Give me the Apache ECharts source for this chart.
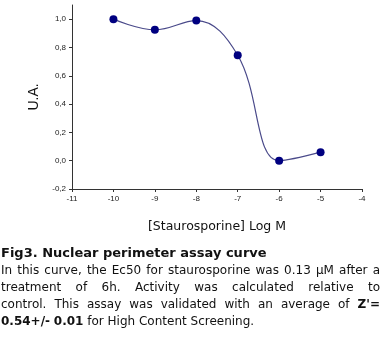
<!DOCTYPE html>
<html><head><meta charset="utf-8">
<script src="https://cdn.jsdelivr.net/npm/echarts@6/dist/echarts.min.js"></script>
<style>html,body{margin:0;padding:0;background:#fff}#c{width:390px;height:338px}</style>
</head><body><div id="c"></div>
<script>
const logConc = [-10, -9, -8, -7, -6, -5];
const ua = [1.0, 0.925, 0.99, 0.745, 0.0, 0.06];
const yTicks = [-0.2, 0, 0.2, 0.4, 0.6, 0.8, 1.0];
const xAxisName = '[Staurosporine] Log M';
const yAxisName = 'U.A.';
const captionTitle = 'Fig3. Nuclear perimeter assay curve';
const captionLines = [
  [{t:'In this curve, the Ec50 for staurosporine was 0.13 \u00b5M after a'}],
  [{t:'treatment of 6h. Activity was calculated relative to'}],
  [{t:'control. This assay was validated with an average of'}, {t:"Z'=", b:true}],
  [{t:'0.54+/- 0.01', b:true}, {t:' for High Content Screening.'}]
];

const chart = echarts.init(document.getElementById('c'), null, {renderer:'canvas'});
const ctx = document.createElement('canvas').getContext('2d');
const bodyFont = '"DejaVu Sans", sans-serif';
function fontStr(b, s){ return (b ? 'bold ' : '') + s + 'px ' + bodyFont; }
function measure(t, b, s){ ctx.font = fontStr(b, s); return ctx.measureText(t).width; }

const graphics = [];
graphics.push({type:'text', left:1, top:247, style:{text:captionTitle, font:'bold 13px "DejaVu Sans", sans-serif', fill:'#111'}});
const x0 = 1, x1 = 380, lineTop = [265, 282, 299, 316];
// choose a font size so that the first line nearly fills the width
let fs = 12;
while (fs > 9 && measure(captionLines[0][0].t, false, fs) > 372) fs -= 0.1;
captionLines.forEach((segs, li) => {
  const words = [];
  segs.forEach(s => s.t.split(' ').forEach(w => { if (w) words.push({w, b: !!s.b}); }));
  const justify = li < captionLines.length - 1;
  const widths = words.map(o => measure(o.w, o.b, fs));
  const total = widths.reduce((a,b)=>a+b,0);
  const gap = justify ? (x1 - x0 - total) / (words.length - 1) : measure(' ', false, fs);
  let x = x0;
  words.forEach((o, i) => {
    graphics.push({type:'text', left:x, top:lineTop[li], style:{text:o.w, font:fontStr(o.b, fs), fill:'#111'}});
    x += widths[i] + gap;
  });
});

const fmt = v => (Math.round(v*10)/10).toFixed(1).replace('.', ',');
chart.setOption({
  animation:false,
  backgroundColor:'#fff',
  grid:{left:72, right:28, top:5, bottom:149},
  xAxis:{type:'value', min:-11, max:-4, interval:1,
    axisLine:{onZero:false, lineStyle:{color:'#333', width:1}},
    axisTick:{show:true, length:3, lineStyle:{color:'#333'}},
    axisLabel:{fontSize:8, color:'#222', margin:6, fontFamily:'Liberation Sans, Arial'},
    splitLine:{show:false},
    name:xAxisName, nameLocation:'middle', nameGap:31,
    nameTextStyle:{fontSize:12.5, color:'#111', fontFamily:'"DejaVu Sans", sans-serif'}
  },
  yAxis:{type:'value', min:-0.2, max:1.1, interval:0.2,
    axisLine:{show:true, lineStyle:{color:'#333', width:1}},
    axisTick:{show:true, length:3, lineStyle:{color:'#333'}, customValues:yTicks},
    axisLabel:{fontSize:8, color:'#222', margin:6, fontFamily:'Liberation Sans, Arial', formatter:fmt, customValues:yTicks},
    splitLine:{show:false},
    name:yAxisName, nameLocation:'middle', nameGap:28, nameRotate:90,
    nameTextStyle:{fontSize:14, color:'#111', fontFamily:'Liberation Sans, Arial'}
  },
  series:[{type:'line', data:logConc.map((x,i)=>[x, ua[i]]), smooth:0.4,
    symbol:'circle', symbolSize:8,
    itemStyle:{color:'#000080'},
    lineStyle:{color:'#4a4a8a', width:1.2}
  }],
  graphic:graphics
});
</script></body></html>
